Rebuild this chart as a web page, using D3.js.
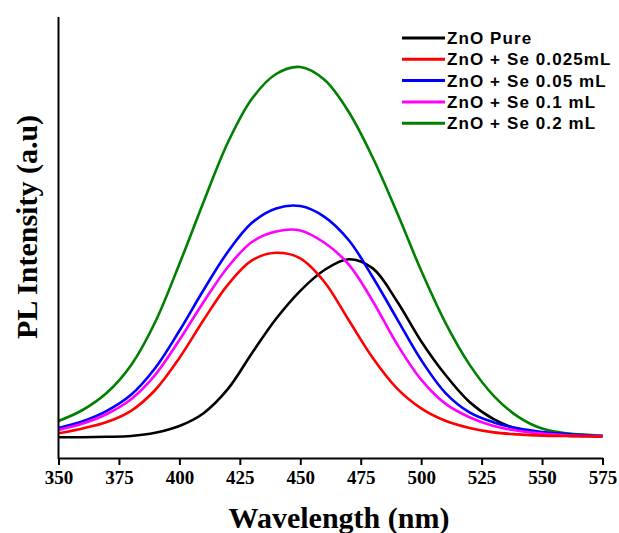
<!DOCTYPE html>
<html>
<head>
<meta charset="utf-8">
<script src="https://cdn.jsdelivr.net/npm/d3@7"></script>
<style>
  body { margin: 0; background: #fff; }
  .tick text { font-family: "Liberation Serif", "Times New Roman", serif; font-weight: bold; }
</style>
</head>
<body>
<div class="chart"></div>
<script>
const wavelengths = [350, 360, 370, 380, 390, 400, 410, 420, 430, 440, 450, 460,
                     470, 480, 490, 500, 510, 520, 530, 540, 550, 560, 570, 575];

const pure   = [52, 52, 53, 55, 63, 80, 112, 172, 262, 348, 418, 470,
                497, 474, 392, 292, 208, 140, 97, 72, 61, 56, 55, 55];
const se0025 = [62, 74, 90, 118, 170, 250, 345, 433, 494, 513, 499, 440,
                345, 250, 174, 124, 93, 75, 64, 59, 56, 55, 54, 53];
const se005  = [75, 92, 118, 158, 225, 318, 420, 515, 588, 624, 630, 603,
                545, 452, 348, 245, 163, 114, 89, 74, 65, 60, 56, 55];
const se01   = [70, 86, 110, 147, 208, 295, 390, 477, 540, 566, 569, 538,
                484, 392, 285, 196, 136, 102, 80, 68, 61, 57, 55, 55];
const se02   = [92.5, 120, 163, 232, 340, 485, 640, 788, 898, 960, 977.5, 945.5,
                865.5, 750.5, 613.5, 468.5, 338.5, 233.5, 155.5, 103.5, 73.5, 61.5, 57.5, 55.5];

const seriesNames  = ['ZnO Pure', 'ZnO + Se 0.025mL', 'ZnO + Se 0.05 mL', 'ZnO + Se 0.1 mL', 'ZnO + Se 0.2 mL'];
const seriesValues = [pure, se0025, se005, se01, se02];
const seriesColors = ['#000000', '#ff0000', '#0000ff', '#ff00ff', '#008000'];
const xTicks = [350, 375, 400, 425, 450, 475, 500, 525, 550, 575];

const W = 619, H = 533;
const svg = d3.select('.chart').append('svg')
    .attr('width', W)
    .attr('height', H);

//scales
const xScale = d3.scaleLinear().domain([350, 575]).range([58.5, 602.5]);
const yScale = d3.scaleLinear().domain([0, 1100]).range([458, 18]);

//curves (pure drawn first, green last)
const line = d3.line()
    .x(d => xScale(d[0]))
    .y(d => yScale(d[1]))
    .curve(d3.curveCatmullRom.alpha(0.5));

const drawOrder = [0, 4, 2, 3, 1];
drawOrder.forEach(i => {
    svg.append('path')
        .datum(wavelengths.map((w, j) => [w, seriesValues[i][j]]))
        .attr('fill', 'none')
        .attr('stroke', seriesColors[i])
        .attr('stroke-width', 2.6)
        .attr('d', line);
});

//axes
const xAxis = d3.axisBottom(xScale)
    .tickValues(xTicks)
    .tickSize(7)
    .tickSizeOuter(0)
    .tickPadding(6);

const gx = svg.append('g')
    .attr('transform', 'translate(0,458)')
    .call(xAxis);
gx.select('.domain').attr('stroke', '#000').attr('stroke-width', 2);
gx.selectAll('.tick line').attr('stroke', '#000').attr('stroke-width', 2);
gx.selectAll('.tick text').attr('font-size', 19).attr('fill', '#000');

svg.append('line')
    .attr('x1', 58.5).attr('x2', 58.5)
    .attr('y1', 17).attr('y2', 459)
    .attr('stroke', '#000')
    .attr('stroke-width', 2);

//axes labels
svg.append('text')
    .attr('x', 339)
    .attr('y', 528)
    .attr('text-anchor', 'middle')
    .attr('font-family', '"Liberation Serif", "Times New Roman", serif')
    .attr('font-weight', 'bold')
    .attr('font-size', 30)
    .text('Wavelength (nm)');

svg.append('text')
    .attr('transform', 'translate(37,227) rotate(-90)')
    .attr('text-anchor', 'middle')
    .attr('font-family', '"Liberation Serif", "Times New Roman", serif')
    .attr('font-weight', 'bold')
    .attr('font-size', 30)
    .text('PL Intensity (a.u)');

//legend
const legend = svg.append('g');
seriesNames.forEach((name, i) => {
    const y = 38 + i * 21.3;
    legend.append('line')
        .attr('x1', 402).attr('x2', 445)
        .attr('y1', y).attr('y2', y)
        .attr('stroke', seriesColors[i])
        .attr('stroke-width', 3);
    legend.append('text')
        .attr('x', 447)
        .attr('y', y + 6)
        .attr('font-family', '"Liberation Sans", Arial, sans-serif')
        .attr('font-weight', 'bold')
        .attr('font-size', 17)
        .attr('letter-spacing', 1.1)
        .text(name);
});
</script>
</body>
</html>
